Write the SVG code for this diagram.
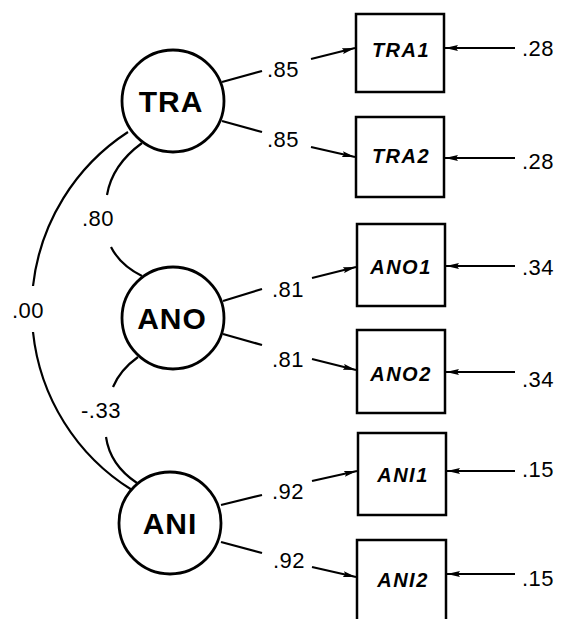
<svg xmlns="http://www.w3.org/2000/svg" width="562" height="619" viewBox="0 0 562 619">
<style>
.lat{fill:#fff;stroke:#000;stroke-width:2.8}
.box{fill:#fff;stroke:#000;stroke-width:2.5}
.latt{font-family:"Liberation Sans",Arial,sans-serif;font-weight:bold;font-size:30px;letter-spacing:1px;text-anchor:middle}
.boxt{font-family:"Liberation Sans",Arial,sans-serif;font-weight:bold;font-style:italic;font-size:20px;letter-spacing:1.5px;text-anchor:middle}
.lbl{font-family:"Liberation Sans",Arial,sans-serif;font-size:22px;letter-spacing:0.5px}
.ln{fill:none;stroke:#000;stroke-width:2.2}
.ar{fill:none;stroke:#000;stroke-width:2.2;marker-end:url(#ah)}
</style>
<defs>
<marker id="ah" viewBox="0 0 13 7" refX="13" refY="3.5" markerWidth="13" markerHeight="7" markerUnits="userSpaceOnUse" orient="auto">
<path d="M0,0.5 L13,3.5 L0,6.5 L2,3.5 Z" fill="#000"/>
</marker>
</defs>
<g id="connectors">
<path class="ln" d="M128,132 A212,212 0 0 0 33,286"/>
<path class="ln" d="M33,332 A212,212 0 0 0 132,490"/>
<path class="ln" d="M142,143 Q112,165 107,195"/>
<path class="ln" d="M111,247 Q120,265 142,276"/>
<path class="ln" d="M138,357 Q120,370 113,387"/>
<path class="ln" d="M106,437 Q110,465 137,483"/>
<line class="ln" x1="222" y1="82" x2="262" y2="71"/>
<line class="ln" x1="222" y1="121" x2="262" y2="132"/>
<line class="ln" x1="223" y1="301" x2="262" y2="289"/>
<line class="ln" x1="223" y1="334" x2="262" y2="345"/>
<line class="ln" x1="221" y1="505" x2="262" y2="495"/>
<line class="ln" x1="221" y1="542" x2="262" y2="553"/>
<line class="ar" x1="311" y1="59" x2="355" y2="48"/>
<line class="ar" x1="311" y1="147" x2="355" y2="157"/>
<line class="ar" x1="312" y1="278" x2="356" y2="267"/>
<line class="ar" x1="312" y1="359" x2="356" y2="370"/>
<line class="ar" x1="312" y1="481" x2="357" y2="471"/>
<line class="ar" x1="312" y1="567" x2="356" y2="577"/>
<line class="ar" x1="515" y1="48" x2="445" y2="48"/>
<line class="ar" x1="515" y1="158" x2="445" y2="158"/>
<line class="ar" x1="515" y1="266" x2="446" y2="266"/>
<line class="ar" x1="515" y1="372" x2="446" y2="372"/>
<line class="ar" x1="515" y1="471" x2="447" y2="471"/>
<line class="ar" x1="515" y1="574" x2="447" y2="574"/>
</g>
<g id="labels">
<text class="lbl" x="267" y="77">.85</text>
<text class="lbl" x="267" y="147">.85</text>
<text class="lbl" x="272" y="297">.81</text>
<text class="lbl" x="272" y="367">.81</text>
<text class="lbl" x="272" y="499">.92</text>
<text class="lbl" x="273" y="568">.92</text>
<text class="lbl" x="82" y="226">.80</text>
<text class="lbl" x="12" y="318">.00</text>
<text class="lbl" x="81" y="418">-.33</text>
<text class="lbl" x="522" y="56">.28</text>
<text class="lbl" x="522" y="169">.28</text>
<text class="lbl" x="522" y="275">.34</text>
<text class="lbl" x="522" y="387">.34</text>
<text class="lbl" x="522" y="477">.15</text>
<text class="lbl" x="522" y="586">.15</text>
</g>
<g id="TRA"><circle class="lat" cx="173" cy="101" r="51"/><text class="latt" x="171" y="112">TRA</text></g>
<g id="ANO"><circle class="lat" cx="173" cy="318" r="51"/><text class="latt" x="172" y="329">ANO</text></g>
<g id="ANI"><circle class="lat" cx="170" cy="523" r="51"/><text class="latt" x="170" y="534">ANI</text></g>
<g id="TRA1"><rect class="box" x="356" y="14" width="88" height="78"/><text class="boxt" x="401" y="57">TRA1</text></g>
<g id="TRA2"><rect class="box" x="356" y="117" width="88" height="80"/><text class="boxt" x="401" y="163">TRA2</text></g>
<g id="ANO1"><rect class="box" x="357" y="224" width="88" height="82"/><text class="boxt" x="401" y="274">ANO1</text></g>
<g id="ANO2"><rect class="box" x="357" y="330" width="88" height="83"/><text class="boxt" x="401" y="381">ANO2</text></g>
<g id="ANI1"><rect class="box" x="358" y="433" width="88" height="82"/><text class="boxt" x="403" y="482">ANI1</text></g>
<g id="ANI2"><rect class="box" x="357" y="540" width="89" height="82"/><text class="boxt" x="403" y="587">ANI2</text></g>
</svg>
